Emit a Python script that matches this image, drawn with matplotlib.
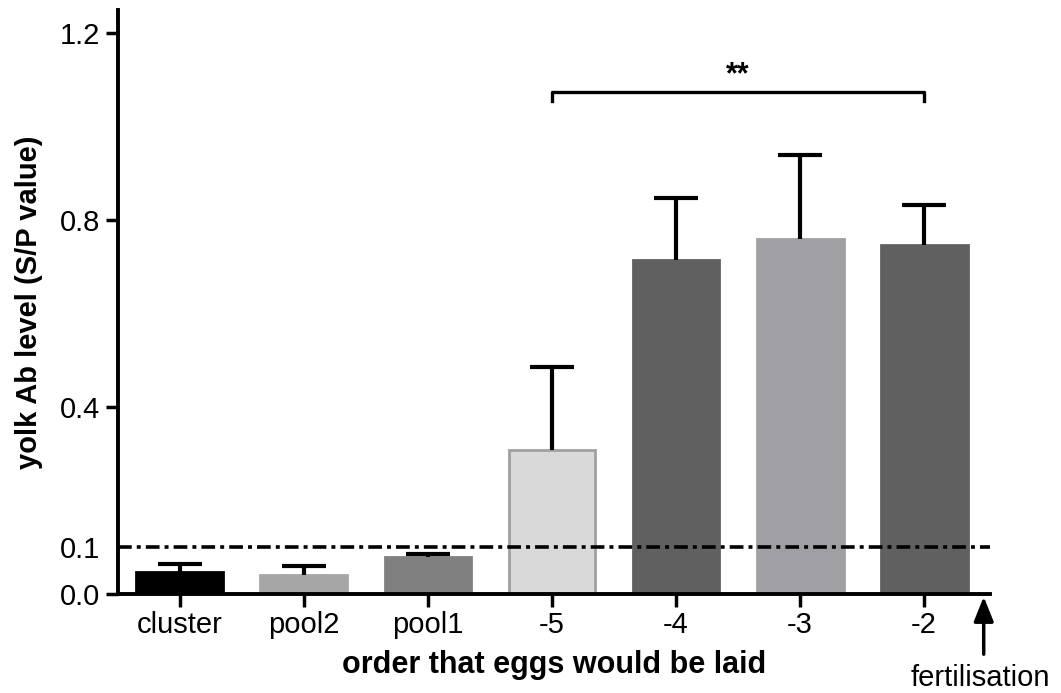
import numpy as np
import matplotlib.pyplot as plt

plt.rcParams['font.family'] = ['Liberation Sans', 'DejaVu Sans']

categories = ['cluster', 'pool2', 'pool1', '-5', '-4', '-3', '-2']
means = [0.047, 0.041, 0.079, 0.308, 0.714, 0.759, 0.746]
err_up = [0.017, 0.019, 0.007, 0.178, 0.133, 0.180, 0.086]
colors = ['#000000', '#a6a6a6', '#808080', '#d9d9d9', '#606060', '#a0a0a4', '#606060']
edges = ['#000000', '#a6a6a6', '#808080', '#a0a0a0', '#606060', '#a0a0a4', '#606060']
cutoff = 0.1

fig = plt.figure(figsize=(10.61, 6.93), dpi=100)
ax = fig.add_axes([0.111, 0.143, 0.822, 0.843])

x = np.arange(len(categories))
ax.bar(x, means, width=0.7, color=colors, edgecolor=edges, linewidth=2, zorder=2)
eb = ax.errorbar(x, means, yerr=[np.zeros(len(means)), err_up], fmt='none',
                 ecolor='black', elinewidth=3, capsize=16, capthick=3, zorder=3)
# only the upper caps
eb[1][0].set_visible(False)

ax.axhline(cutoff, color='black', linewidth=2.6, dashes=(3.8, 1.4, 1.1, 1.4), zorder=4)

# significance bracket
y_br = 1.074
ax.plot([3, 3, 6, 6], [y_br - 0.02, y_br, y_br, y_br - 0.02], color='black', lw=2.4, clip_on=False)
ax.text(4.5, 1.11, '**', ha='center', va='center', fontsize=22, fontweight='bold')

ax.set_xlim(-0.5, 6.53)
ax.set_ylim(0, 1.25)
ax.set_yticks([0.0, 0.1, 0.4, 0.8, 1.2])
ax.set_yticklabels(['0.0', '0.1', '0.4', '0.8', '1.2'])
ax.set_xticks(x)
ax.set_xticklabels(categories)
ax.tick_params(axis='both', labelsize=21, width=2.5, length=9, direction='out')
ax.yaxis.get_major_ticks()[1].tick1line.set_visible(False)

for s in ['top', 'right']:
    ax.spines[s].set_visible(False)
for s in ['left', 'bottom']:
    ax.spines[s].set_linewidth(2.8)

ax.set_ylabel('yolk Ab level (S/P value)', fontsize=21, fontweight='bold', labelpad=12)
ax.set_xlabel('order that eggs would be laid', fontsize=22, fontweight='bold', labelpad=8)

ax.annotate('', xy=(6.48, 0.0), xytext=(6.48, -0.135), xycoords='data',
            arrowprops=dict(arrowstyle='-|>,head_width=0.6,head_length=1.5', color='black', lw=2.5),
            annotation_clip=False)
ax.text(6.45, -0.15, 'fertilisation', ha='center', va='top', fontsize=21)

fig.savefig('out.png', dpi=100)
